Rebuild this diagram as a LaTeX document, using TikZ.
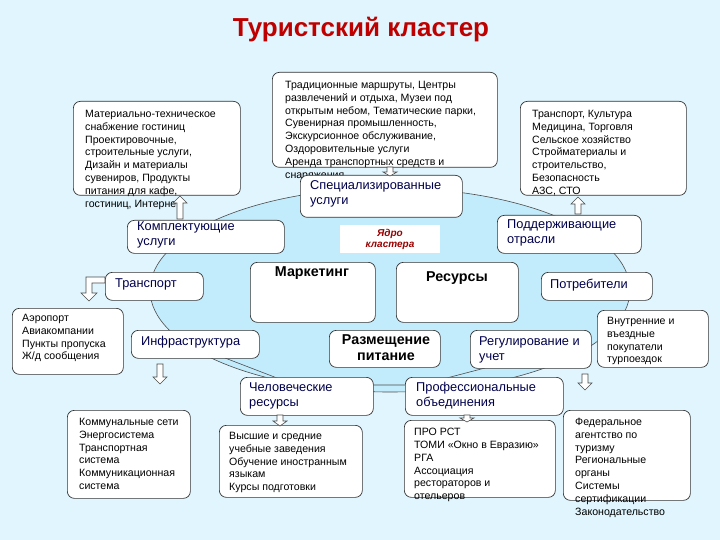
\documentclass[tikz,border=0pt]{standalone}
\usepackage{fontspec}
\setmainfont{Liberation Sans}
\begin{document}
\begin{tikzpicture}[x=1pt,y=-1pt,
  box/.style={draw=black!80,fill=white,rounded corners=7pt,line width=0.7pt,inner sep=0pt},
  txt/.style={anchor=north west,align=left,inner sep=0pt,font=\fontsize{10.6}{12.8}\selectfont},
  btxt/.style={anchor=north west,align=left,inner sep=0pt,font=\fontsize{12.8}{15.5}\selectfont,text=blue!30!black},
  bold/.style={inner sep=0pt,font=\bfseries\fontsize{14.3}{16}\selectfont,align=center},
  harrow/.style={draw=black!70,fill=white,line width=0.6pt}]
\newcommand\bx[5]{\pgfmathsetmacro\bw{#4-#2}\pgfmathsetmacro\bh{#5-#3}%
  \node[box,anchor=north west,minimum width=\bw pt,minimum height=\bh pt] (#1) at (#2,#3) {};}
\newcommand\darr[4]{\filldraw[harrow] (#1-3,#2)--(#1+3,#2)--(#1+3,#3-#4)--(#1+7,#3-#4)--(#1,#3)--(#1-7,#3-#4)--(#1-3,#3-#4)--cycle;}
\newcommand\uarr[4]{\filldraw[harrow] (#1-3,#2)--(#1+3,#2)--(#1+3,#3+#4)--(#1+7,#3+#4)--(#1,#3)--(#1-7,#3+#4)--(#1-3,#3+#4)--cycle;}
\fill[cyan!12] (0,0) rectangle (720,540);
\useasboundingbox (0,0) rectangle (720,540);
\node[font=\bfseries\fontsize{26}{28}\selectfont,text=red!75!black] (title) at (361,30) {Туристский кластер};
\filldraw[fill=cyan!24,draw=black!70,line width=0.6pt] (390,290) ellipse [x radius=240,y radius=102];
\draw[black!70,line width=0.6pt] (225,358)--(290,383) (373,385)--(405,385) (485,368)--(420,385);
\bx{mat}{73}{101}{240}{195}
\node[txt] (matt) at (85,110) {Материально-техническое\\снабжение гостиниц\\Проектировочные,\\строительные услуги,\\Дизайн и материалы\\сувениров, Продукты\\питания для кафе,\\гостиниц, Интернет};
\bx{trad}{272}{72}{497}{167}
\node[txt] (tradt) at (285,81) {Традиционные маршруты, Центры\\развлечений и отдыха, Музеи под\\открытым небом, Тематические парки,\\Сувенирная промышленность,\\Экскурсионное обслуживание,\\Оздоровительные услуги\\Аренда транспортных средств и\\снаряжения};
\bx{tc}{520}{101}{686}{195}
\node[txt] (tct) at (532,110) {Транспорт, Культура\\Медицина, Торговля\\Сельское хозяйство\\Стройматериалы и\\строительство,\\Безопасность\\АЗС, СТО};
\bx{spec}{300}{175}{462}{217}
\node[btxt] (spect) at (310,180) {Специализированные\\услуги};
\bx{komp}{127}{220}{284}{253}
\node[btxt] (kompt) at (137,221) {Комплектующие\\услуги};
\bx{podd}{497}{215}{641}{253}
\node[btxt] (poddt) at (507,219) {Поддерживающие\\отрасли};
\fill[white] (340,225) rectangle (440,253);
\node[font=\bfseries\itshape\fontsize{10}{11}\selectfont,text=red!60!black,align=center] (yadro) at (390,239) {Ядро\\кластера};
\uarr{180}{219}{196}{7}
\darr{390}{167}{176}{4}
\uarr{578}{214}{197}{7}
\bx{mark}{250}{262}{375}{322}
\node[bold] (markt) at (312,273) {Маркетинг};
\bx{res}{396}{262}{518}{322}
\node[bold] (rest) at (457,278) {Ресурсы};
\bx{tr}{105}{272}{203}{300}
\node[btxt] (trt) at (115,278) {Транспорт};
\filldraw[harrow] (105,283)--(92,283)--(92,293)--(97,293)--(89,301)--(81,293)--(86,293)--(86,277)--(105,277)--cycle;
\bx{potr}{541}{272}{652}{300}
\node[btxt] (potrt) at (550,279) {Потребители};
\bx{aer}{12}{308}{123}{374}
\node[txt] (aert) at (22,314) {Аэропорт\\Авиакомпании\\Пункты пропуска\\Ж/д сообщения};
\bx{inf}{131}{330}{259}{358}
\node[btxt] (inft) at (141,336) {Инфраструктура};
\bx{raz}{329}{330}{440}{367}
\node[bold] (razt) at (386,348) {Размещение\\питание};
\bx{reg}{470}{330}{591}{368}
\node[btxt] (regt) at (479,336) {Регулирование и\\учет};
\bx{vn}{597}{310}{708}{367}
\node[txt] (vnt) at (607,317) {Внутренние и\\въездные\\покупатели\\турпоездок};
\darr{160}{364}{384}{7}
\darr{585}{374}{390}{7}
\bx{chel}{240}{377}{373}{415}
\node[btxt] (chelt) at (249,382) {Человеческие\\ресурсы};
\bx{prof}{405}{377}{563}{415}
\node[btxt] (proft) at (416,382) {Профессиональные\\объединения};
\bx{kom}{67}{410}{190}{498}
\node[txt] (komt) at (79,418) {Коммунальные сети\\Энергосистема\\Транспортная\\система\\Коммуникационная\\система};
\bx{vys}{219}{425}{362}{497}
\node[txt] (vyst) at (229,432) {Высшие и средние\\учебные заведения\\Обучение иностранным\\языкам\\Курсы подготовки};
\bx{pro}{404}{420}{555}{497}
\node[txt] (prot) at (414,428) {ПРО РСТ\\ТОМИ «Окно в Евразию»\\РГА\\Ассоциация\\рестораторов и\\отельеров};
\bx{fed}{563}{410}{690}{500}
\node[txt] (fedt) at (575,418) {Федеральное\\агентство по\\туризму\\Региональные\\органы\\Системы\\сертификации\\Законодательство};
\darr{280}{415}{426}{5}
\darr{467}{415}{422}{4}
\end{tikzpicture}
\end{document}
